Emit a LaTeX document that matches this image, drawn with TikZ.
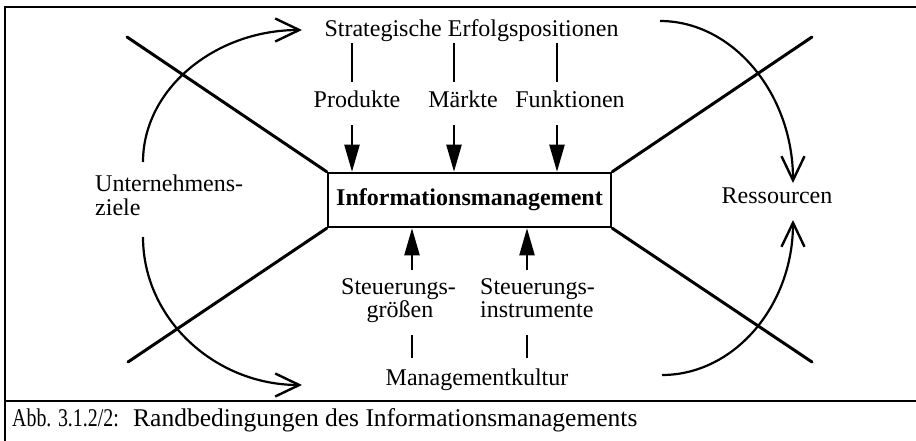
\documentclass[tikz,border=0pt]{standalone}
\usepackage{fontspec}
\setmainfont{Liberation Serif}
\usetikzlibrary{arrows.meta}
\begin{document}
\begin{tikzpicture}[x=1pt,y=-1pt,
  lbl/.style={font=\fontsize{24}{23}\selectfont, inner sep=0pt, anchor=base},
  lblw/.style={font=\fontsize{24}{23}\selectfont, inner sep=0pt, anchor=base west},
  caplbl/.style={font=\fontsize{25.5}{25}\selectfont, inner sep=0pt, anchor=base west},
  frame/.style={line width=1.8pt},
  diag/.style={line width=3pt, line cap=round},
  arc/.style={line width=2.2pt, -{Straight Barb[length=24pt,width=23pt,line width=2.4pt]}},
  tick/.style={line width=2pt},
  farrow/.style={line width=2.2pt, -{Triangle[length=27pt,width=15pt]}},
  mainbox/.style={draw, line width=2.5pt, minimum width=283pt, minimum height=54pt, inner sep=0pt,
    font=\fontsize{24}{23}\selectfont\bfseries}
]
\useasboundingbox (0,0) rectangle (916,441);

% frame
\coordinate (ftr) at (916,7);
\coordinate (ftl) at (5,7);
\coordinate (fbl) at (5,441);
\coordinate (sl) at (5,401);
\coordinate (sr) at (916,401);
\draw[frame] (ftr) -- (ftl) -- (fbl);
\draw[frame] (sl) -- (sr);

% central box
\node[mainbox] (box) at (469.5,200) {Informationsmanagement};

% diagonals
\coordinate (dTL) at (127,37);
\coordinate (dTR) at (812,37);
\coordinate (dBL) at (128,362);
\coordinate (dBR) at (812,362);
\draw[diag] (box.north west) -- (dTL);
\draw[diag] (box.north east) -- (dTR);
\draw[diag] (box.south west) -- (dBL);
\draw[diag] (box.south east) -- (dBR);

% texts
\node[lbl] (sep) at (471.5,37) {Strategische Erfolgspositionen};
\node[lbl] (prod) at (357,108) {Produkte};
\node[lbl] (mark) at (463,108) {Märkte};
\node[lbl] (funk) at (570,108) {Funktionen};
\node[lblw] (uz1) at (95,192) {Unternehmens-};
\node[lblw] (uz2) at (95,215) {ziele};
\node[lbl] (res) at (777,204) {Ressourcen};
\node[lbl] (sg1) at (398.5,294) {Steuerungs-};
\node[lbl] (sg2) at (400,317) {größen};
\node[lblw] (si1) at (480,294) {Steuerungs-};
\node[lblw] (si2) at (480,317) {instrumente};
\node[lbl] (mk) at (477,385) {Managementkultur};
\node[caplbl] (capl) at (12,426) {\scalebox{0.78}[1]{Abb. 3.1.2/2:}};
\node[caplbl] (capt) at (133,426) {Randbedingungen des Informationsmanagements};

% ticks below top title
\coordinate (t1a) at (352,43); \coordinate (t1b) at (352,82);
\coordinate (t2a) at (454,43); \coordinate (t2b) at (454,82);
\coordinate (t3a) at (557,43); \coordinate (t3b) at (557,82);
\draw[tick] (t1a) -- (t1b);
\draw[tick] (t2a) -- (t2b);
\draw[tick] (t3a) -- (t3b);

% down arrows into box
\coordinate (a1) at (352,125);
\coordinate (a2) at (454,125);
\coordinate (a3) at (557,125);
\draw[farrow] (a1) -- (a1 |- box.north);
\draw[farrow] (a2) -- (a2 |- box.north);
\draw[farrow] (a3) -- (a3 |- box.north);

% up arrows into box
\coordinate (b1) at (412,270);
\coordinate (b2) at (527,270);
\draw[farrow] (b1) -- (b1 |- box.south);
\draw[farrow] (b2) -- (b2 |- box.south);

% ticks above Managementkultur
\coordinate (k1a) at (412,335); \coordinate (k1b) at (412,358);
\coordinate (k2a) at (527,335); \coordinate (k2b) at (527,358);
\draw[tick] (k1a) -- (k1b);
\draw[tick] (k2a) -- (k2b);

% curved arrows
\coordinate (tlS) at (143,162); \coordinate (tlE) at (302,30);
\draw[arc] (tlS) .. controls (143,89) and (215,30) .. (tlE);
\coordinate (blS) at (143,237); \coordinate (blE) at (302,385);
\draw[arc] (blS) .. controls (143,319) and (215,385) .. (blE);
\coordinate (trS) at (660,21); \coordinate (trE) at (793,183);
\draw[arc] (trS) .. controls (733,21) and (793,94) .. (trE);
\coordinate (brS) at (662,375); \coordinate (brE) at (793,220);
\draw[arc] (brS) .. controls (734,375) and (793,306) .. (brE);
\end{tikzpicture}
\end{document}
